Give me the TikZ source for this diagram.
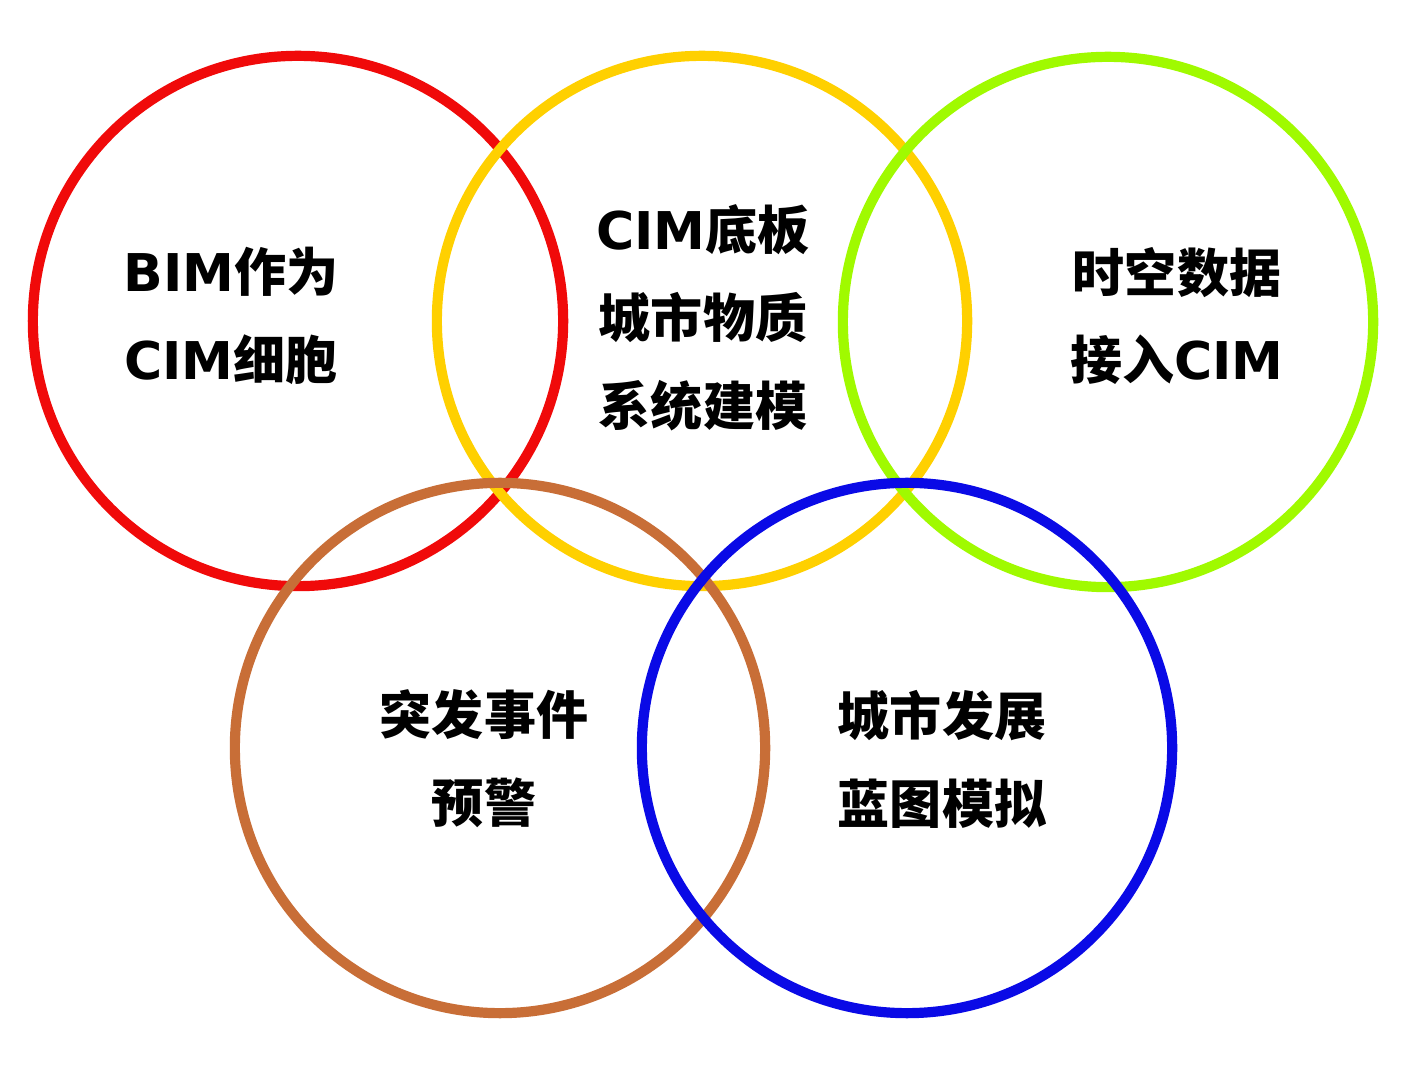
\documentclass[tikz,border=0pt]{standalone}
\usepackage{fontspec}
\setmainfont{Noto Sans CJK SC}
\newfontfamily\latinfont{DejaVu Sans}
\newcommand\lat[1]{{\latinfont\bfseries #1}}
\usepackage{tikz}
\definecolor{ringred}{RGB}{240,10,10}
\definecolor{ringyellow}{RGB}{255,208,0}
\definecolor{ringgreen}{RGB}{160,250,0}
\definecolor{ringbrown}{RGB}{200,110,55}
\definecolor{ringblue}{RGB}{10,10,230}
\begin{document}
\begin{tikzpicture}[x=0.01cm,y=-0.01cm,
    ring/.style={circle,draw=#1,line width=2.9pt,minimum size=5.3cm,inner sep=0pt},
    every node/.style={font=\fontsize{14.8pt}{25pt}\selectfont\bfseries,align=center}]
  \useasboundingbox[fill=white] (0,0) rectangle (1419,1068);
  \node[ring=ringred] (R) at (298,321) {};
  \node[ring=ringyellow] (Y) at (702,321) {};
  \node[ring=ringgreen] (G) at (1108,322) {};
  \node[ring=ringbrown] (Br) at (500,748) {};
  \node[ring=ringblue] (Bl) at (907,748) {};
  \node(RT) at (231,316) {\lat{BIM}作为\\\lat{CIM}细胞};
  \node(YT) at (703,318) {\lat{CIM}底板\\城市物质\\系统建模};
  \node(GT) at (1177,316) {时空数据\\接入\lat{CIM}};
  \node(BrT) at (484,759) {突发事件\\预警};
  \node(BlT) at (942,759) {城市发展\\蓝图模拟};
\end{tikzpicture}
\end{document}
